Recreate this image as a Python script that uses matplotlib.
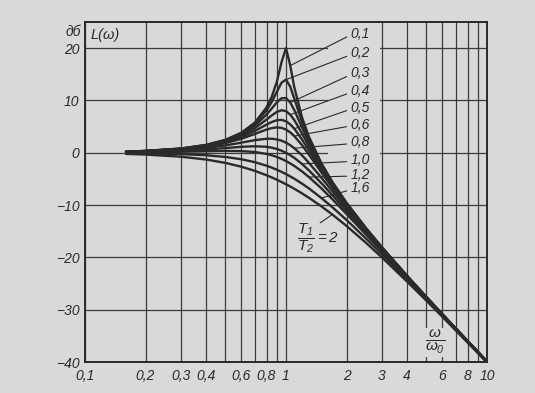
import matplotlib.pyplot as plt
import matplotlib.ticker as mticker
import matplotlib.transforms as mtransforms
from matplotlib.patches import Rectangle

freq = [0.16, 0.2, 0.3, 0.4, 0.5, 0.6, 0.7, 0.8, 0.85, 0.9, 0.95, 1.0, 1.05,
        1.1, 1.2, 1.3, 1.5, 1.7, 2, 2.5, 3, 4, 5, 6, 8, 10]

# L(w), dB, one list per T1/T2
L_01 = [0.22, 0.35, 0.81, 1.50, 2.48, 3.84, 5.77, 8.66, 10.75, 13.55, 17.32, 20.0, 16.67,
        12.50, 6.82, 3.07, -2.00, -5.56, -9.56, -14.41, -18.07, -23.52, -27.61, -30.88, -35.99, -39.91]
L_02 = [0.22, 0.35, 0.80, 1.48, 2.42, 3.73, 5.53, 8.09, 9.75, 11.64, 13.41, 13.98, 12.63,
        10.34, 6.00, 2.65, -2.18, -5.67, -9.62, -14.44, -18.09, -23.53, -27.61, -30.89, -35.99, -39.91]
L_03 = [0.21, 0.34, 0.78, 1.43, 2.33, 3.55, 5.17, 7.28, 8.48, 9.63, 10.42, 10.46, 9.60,
        8.15, 4.91, 2.02, -2.47, -5.83, -9.71, -14.49, -18.12, -23.55, -27.62, -30.89, -35.99, -39.92]
L_04 = [0.21, 0.32, 0.74, 1.36, 2.20, 3.30, 4.70, 6.35, 7.15, 7.81, 8.13, 7.96, 7.28,
        6.24, 3.73, 1.27, -2.84, -6.06, -9.84, -14.56, -18.16, -23.57, -27.63, -30.90, -36.00, -39.92]
L_05 = [0.20, 0.31, 0.70, 1.27, 2.04, 3.01, 4.17, 5.38, 5.89, 6.22, 6.29, 6.02, 5.43,
        4.60, 2.57, 0.46, -3.27, -6.33, -10.00, -14.64, -18.21, -23.60, -27.65, -30.91, -36.00, -39.92]
L_06 = [0.18, 0.29, 0.65, 1.17, 1.85, 2.68, 3.60, 4.44, 4.72, 4.85, 4.76, 4.44, 3.90,
        3.19, 1.48, -0.35, -3.75, -6.64, -10.19, -14.74, -18.28, -23.63, -27.67, -30.93, -36.01, -39.93]
L_08 = [0.15, 0.24, 0.53, 0.93, 1.41, 1.94, 2.41, 2.68, 2.68, 2.56, 2.31, 1.94, 1.45,
        0.87, -0.47, -1.92, -4.77, -7.34, -10.63, -14.99, -18.44, -23.72, -27.72, -30.96, -36.03, -39.94]
L_10 = [0.11, 0.17, 0.37, 0.63, 0.90, 1.14, 1.25, 1.14, 0.97, 0.73, 0.40, 0.00, -0.47,
        -0.98, -2.13, -3.36, -5.81, -8.10, -11.14, -15.29, -18.63, -23.82, -27.79, -31.01, -36.06, -39.96]
L_12 = [0.06, 0.09, 0.19, 0.29, 0.35, 0.32, 0.15, -0.22, -0.48, -0.80, -1.17, -1.58, -2.04,
        -2.52, -3.55, -4.64, -6.81, -8.88, -11.69, -15.63, -18.86, -23.95, -27.87, -31.06, -36.09, -39.98]
L_16 = [-0.06, -0.10, -0.25, -0.47, -0.80, -1.24, -1.80, -2.47, -2.85, -3.24, -3.65, -4.08, -4.52,
        -4.97, -5.89, -6.81, -8.65, -10.40, -12.84, -16.39, -19.40, -24.25, -28.06, -31.20, -36.16, -40.02]
L_20 = [-0.22, -0.34, -0.75, -1.29, -1.94, -2.67, -3.46, -4.30, -4.72, -5.15, -5.59, -6.02, -6.45,
        -6.89, -7.75, -8.60, -10.24, -11.80, -13.98, -17.21, -20.00, -24.61, -28.30, -31.36, -36.26, -40.09]

curve_labels = ['0,1', '0,2', '0,3', '0,4', '0,5', '0,6', '0,8', '1,0', '1,2', '1,6']
curves = [L_01, L_02, L_03, L_04, L_05, L_06, L_08, L_10, L_12, L_16]
label_y = [22.8, 19.0, 15.2, 11.8, 8.6, 5.4, 2.0, -1.4, -4.2, -6.8]
lead_f = [1.05, 1.0, 1.05, 1.05, 1.1, 1.1, 1.1, 1.2, 1.3, 1.5]

x_major = [0.1, 0.2, 0.3, 0.4, 0.6, 0.8, 1, 2, 3, 4, 6, 8, 10]
x_labels = ['0,1', '0,2', '0,3', '0,4', '0,6', '0,8', '1', '2', '3', '4', '6', '8', '10']
x_minor = [0.5, 0.7, 0.9, 5, 7, 9]
y_ticks = [-40, -30, -20, -10, 0, 10, 20]
y_labels = ['\u221240', '\u221230', '\u221220', '\u221210', '0', '10', '20']

bg = '#d9d9dc'
ink = '#2a2a2a'

plt.rcParams['font.family'] = ['Liberation Sans', 'DejaVu Sans']
plt.rcParams['font.style'] = 'italic'
plt.rcParams['mathtext.fontset'] = 'custom'
plt.rcParams['mathtext.it'] = 'Liberation Sans:italic'
plt.rcParams['mathtext.rm'] = 'Liberation Sans:italic'

fig = plt.figure(figsize=(5.35, 3.93), dpi=100, facecolor=bg)
ax = fig.add_axes([85/535, 1 - 362/393, 402/535, 340/393])
ax.set_facecolor(bg)
ax.set_xscale('log')

for vals in curves + [L_20]:
    ax.plot(freq, vals, color=ink, lw=1.7, zorder=3, solid_capstyle='round')

ax.set_xlim(0.1, 10)
ax.set_ylim(-40, 25)
ax.set_xticks(x_major)
ax.set_xticklabels(x_labels)
ax.set_xticks(x_minor, minor=True)
ax.xaxis.set_minor_formatter(mticker.NullFormatter())
ax.set_yticks(y_ticks)
ax.set_yticklabels(y_labels)
ax.tick_params(which='both', length=0, labelsize=10, colors=ink)
ax.tick_params(axis='x', pad=5)
ax.tick_params(axis='y', pad=4)
ax.grid(True, which='both', color='#3a3a3a', lw=0.9)
ax.set_axisbelow(True)
for s in ax.spines.values():
    s.set_linewidth(1.4)
    s.set_color(ink)

# blank patch behind the curve labels (grid is erased there)
ax.add_patch(Rectangle((1.62, -9.6), 2.95 - 1.62, 34.6, facecolor=bg,
                       edgecolor='none', zorder=1.5))

for lbl, vals, ty, fx in zip(curve_labels, curves, label_y, lead_f):
    i = freq.index(fx)
    ax.annotate(lbl, xy=(freq[i], vals[i]), xytext=(2.1, ty), ha='left', va='center',
                fontsize=10, color=ink, zorder=4,
                arrowprops=dict(arrowstyle='-', color=ink, lw=0.8, shrinkA=1, shrinkB=0,
                                relpos=(0, 0.4)))

ax.text(1.13, -16.3, r'$\dfrac{T_1}{T_2}=2$', fontsize=11, color=ink, va='center', ha='left', zorder=4)
ax.annotate('', xy=(1.7, L_20[freq.index(1.7)]), xytext=(1.48, -13.4),
            arrowprops=dict(arrowstyle='-', color=ink, lw=0.8, shrinkA=0, shrinkB=0))

ax.text(5.5, -36.3, r'$\dfrac{\omega}{\omega_0}$', fontsize=11, color=ink, ha='center', va='center',
        zorder=4, bbox=dict(fc=bg, ec='none', pad=0.5))
ax.text(0.107, 22.5, 'L(\u03c9)', fontsize=10.5, color=ink, va='center', ha='left')
trans = mtransforms.blended_transform_factory(ax.transAxes, ax.transData)
ax.text(-0.01, 23.0, 'дб', transform=trans, fontsize=10, color=ink, ha='right', va='center')

fig.savefig('out.png', dpi=100, facecolor=bg)
